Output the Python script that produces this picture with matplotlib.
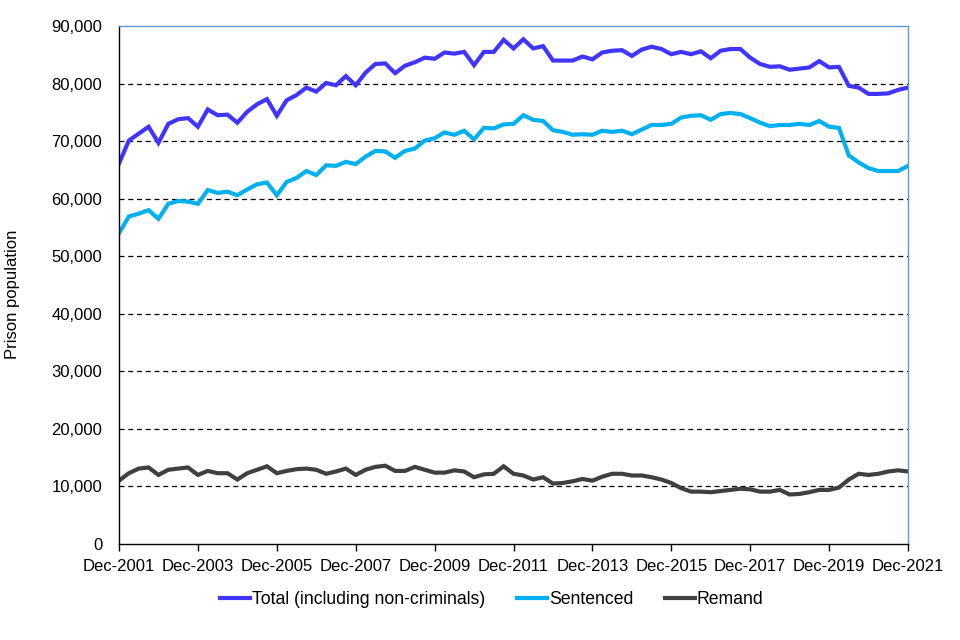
import matplotlib.pyplot as plt
import numpy as np

plt.rcParams["font.family"] = ["Liberation Sans", "DejaVu Sans"]

# quarterly prison population, Dec-2001 .. Dec-2021 (thousands)
total = [
    66.1, 70.1, 71.3, 72.5, 69.7, 73.0, 73.8, 74.0, 72.5, 75.5,
    74.5, 74.6, 73.2, 75.1, 76.4, 77.3, 74.4, 77.1, 78.0, 79.3,
    78.6, 80.1, 79.7, 81.3, 79.7, 81.9, 83.4, 83.5, 81.8, 83.1,
    83.7, 84.5, 84.3, 85.4, 85.2, 85.5, 83.2, 85.5, 85.5, 87.6,
    86.1, 87.7, 86.1, 86.5, 84.0, 84.0, 84.0, 84.7, 84.2, 85.4,
    85.7, 85.8, 84.8, 85.9, 86.4, 86.0, 85.1, 85.5, 85.1, 85.6,
    84.4, 85.7, 86.0, 86.0, 84.5, 83.4, 82.9, 83.0, 82.4, 82.6,
    82.8, 83.9, 82.8, 82.9, 79.6, 79.3, 78.2, 78.2, 78.3, 78.9,
    79.3,
]
sentenced = [
    54.0, 56.9, 57.4, 58.0, 56.5, 59.1, 59.6, 59.5, 59.1, 61.5,
    61.0, 61.2, 60.6, 61.6, 62.5, 62.8, 60.6, 62.9, 63.6, 64.8,
    64.1, 65.8, 65.7, 66.4, 66.0, 67.3, 68.3, 68.2, 67.1, 68.3,
    68.7, 70.1, 70.5, 71.5, 71.1, 71.8, 70.3, 72.3, 72.2, 72.9,
    73.0, 74.5, 73.7, 73.5, 71.9, 71.6, 71.1, 71.2, 71.1, 71.8,
    71.6, 71.8, 71.2, 72.0, 72.8, 72.8, 73.0, 74.1, 74.4, 74.5,
    73.7, 74.7, 74.9, 74.7, 74.0, 73.2, 72.6, 72.8, 72.8, 73.0,
    72.8, 73.5, 72.5, 72.3, 67.5, 66.3, 65.3, 64.8, 64.8, 64.8,
    65.7,
]
remand = [
    11.0, 12.3, 13.1, 13.3, 12.0, 12.9, 13.1, 13.3, 12.0, 12.7,
    12.3, 12.3, 11.2, 12.3, 12.9, 13.5, 12.3, 12.7, 13.0, 13.1,
    12.9, 12.2, 12.6, 13.1, 12.0, 12.9, 13.4, 13.6, 12.7, 12.7,
    13.4, 12.9, 12.4, 12.4, 12.8, 12.6, 11.6, 12.1, 12.2, 13.5,
    12.2, 11.9, 11.2, 11.6, 10.5, 10.6, 10.9, 11.3, 11.0, 11.7,
    12.2, 12.2, 11.9, 11.9, 11.6, 11.2, 10.6, 9.7, 9.1, 9.1,
    9.0, 9.2, 9.4, 9.6, 9.5, 9.1, 9.1, 9.4, 8.6, 8.7,
    9.0, 9.4, 9.4, 9.8, 11.2, 12.2, 12.0, 12.2, 12.6, 12.8,
    12.6,
]
tick_labels = [
    "Dec-2001", "Dec-2003", "Dec-2005", "Dec-2007", "Dec-2009", "Dec-2011",
    "Dec-2013", "Dec-2015", "Dec-2017", "Dec-2019", "Dec-2021",
]

fig = plt.figure(figsize=(9.6, 6.4), dpi=100)
ax = fig.add_axes([119 / 960, 1 - 544 / 640, (908 - 119) / 960, (544 - 26) / 640])

quarters = np.arange(len(total))
ax.plot(quarters, np.array(total) * 1000, color="#4035FF", lw=3,
        label="Total (including non-criminals)", solid_joinstyle="miter")
ax.plot(quarters, np.array(sentenced) * 1000, color="#00B0F0", lw=3,
        label="Sentenced", solid_joinstyle="miter")
ax.plot(quarters, np.array(remand) * 1000, color="#404040", lw=3,
        label="Remand", solid_joinstyle="miter")

ax.set_xlim(0, len(total) - 1)
ax.set_ylim(0, 90000)
ax.set_yticks(np.arange(0, 90001, 10000))
ax.set_yticklabels([f"{v:,}" for v in range(0, 90001, 10000)])
ax.set_xticks(np.arange(0, len(total), 8))
ax.set_xticklabels(tick_labels)

for v in range(10000, 90000, 10000):
    ax.axhline(v, color="black", lw=0.9, ls=(0, (4, 3)), zorder=0)

ax.spines["left"].set_color("black")
ax.spines["bottom"].set_color("black")
ax.spines["top"].set_color("#5B9BD5")
ax.spines["right"].set_color("#5B9BD5")
for s in ax.spines.values():
    s.set_linewidth(1)

ax.tick_params(axis="y", length=0, pad=12, labelsize=12)
ax.tick_params(axis="x", length=5, width=1, direction="out", pad=6, labelsize=12)

fig.text(13 / 960, 1 - 294 / 640, "Prison population", rotation=90,
         ha="center", va="center", fontsize=12)

fig.legend(loc="center", bbox_to_anchor=(492 / 960, 1 - 600 / 640), ncol=3,
           frameon=False, fontsize=12.7, handlelength=1.7, handletextpad=0.1,
           columnspacing=1.8)

fig.savefig("out.png", dpi=100)
